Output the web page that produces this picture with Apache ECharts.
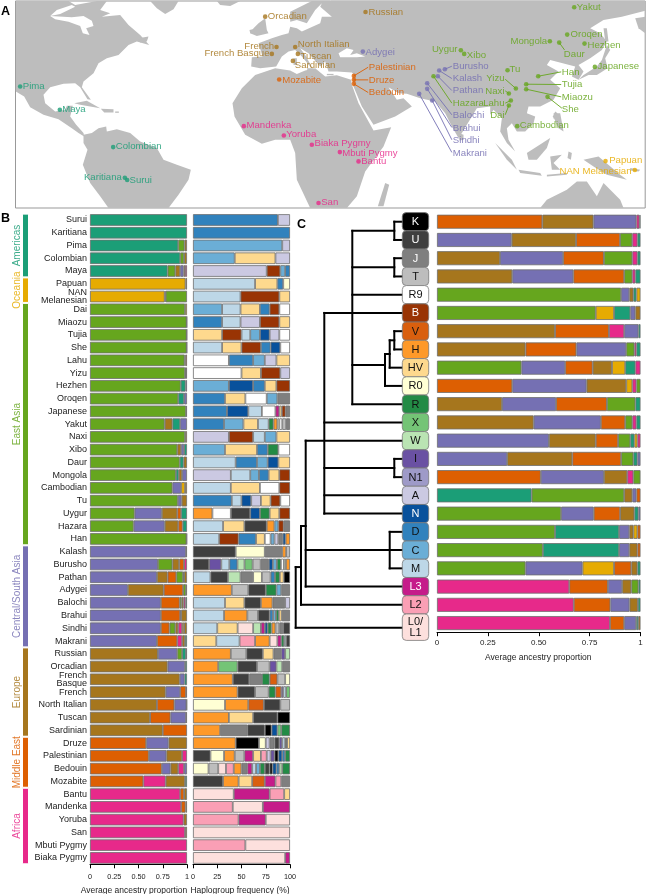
<!DOCTYPE html>
<html><head><meta charset="utf-8">
<style>html,body{margin:0;padding:0;background:#fff}#c{width:647px;height:894px}</style>
<script src="https://cdn.jsdelivr.net/npm/echarts@6/dist/echarts.min.js"></script>
</head><body><div id="c"></div>
<script>
const regionNames = ['Americas','Oceania','East Asia','Central/South Asia','Europe','Middle East','Africa'];
const regionCounts = [5,2,19,8,7,4,6];
const regionKeys = ['M','O','G','P','B','R','F'];
const regionColors = {M:'#1b9e77',O:'#e6ab02',G:'#66a61e',P:'#7570b3',B:'#a6761d',R:'#dd5f02',F:'#e7298a'};
const populations = ['Surui','Karitiana','Pima','Colombian','Maya','Papuan','NAN\nMelanesian','Dai','Miaozu','Tujia','She','Lahu','Yizu','Hezhen','Oroqen','Japanese','Yakut','Naxi','Xibo','Daur','Mongola','Cambodian','Tu','Uygur','Hazara','Han','Kalash','Burusho','Pathan','Adygei','Balochi','Brahui','Sindhi','Makrani','Russian','Orcadian','French\nBasque','French','North Italian','Tuscan','Sardinian','Druze','Palestinian','Bedouin','Mozabite','Bantu','Mandenka','Yoruba','San','Mbuti Pygmy','Biaka Pygmy'];
const ancestryByPopulation = ['M 100','M 100','M 91 G 6.5 B 2.5','M 93 G 4 B 3','M 80 G 8 B 5 P 3.5 R 1.5 F 2','O 98.5 B 1.5','O 77 B 1 G 22','G 98 O 2','G 99.7 B .3','G 99.7 B .3','G 99.7 B .3','G 97.5 O 1 R 1.5','G 98 B 1 O 1','G 93.5 M 5 P 1.5','G 91 M 6 P 3','G 99 B 1','G 77 B 8 M 8 P 7','G 98 B 2','G 90 B 4 P 3 M 3','G 92.5 M 4 B 3.5','G 88.5 M 3 B 3.5 P 5','G 85 P 9 O 4 B 2','G 90.5 P 4 B 5.5','G 46 P 28 B 16 R 4 M 6','G 45 P 32 B 14 R 4.5 M 4.5','G 99.5 B .5','P 99 B 1','P 70 G 15 B 7 R 5 F 3','P 69 B 11 R 9 G 7 O 1 B 3','P 39 B 37 R 20 G 3 O 1','P 73 R 19.5 G 2 B 2 F 2 M 1.5','P 73 R 20 F 1 B 6','P 73 R 9 G 6 B 3 F 4 O 2 B 3','P 69 R 21 F 5 B 3 M 2','B 70 P 20 G 5 M 4 R 1','B 80 P 18 M 2','B 92.5 P 5 M 2.5','B 78 P 15 R 6 F 1','B 69 R 18 P 12.5 F .5','B 62 R 21 P 16 F 1','B 75 R 25','R 58 P 23 B 19','R 60 P 18 B 16 F 5','R 74 P 9 B 8 F 6 P 3','R 55 F 23 B 20 M 2','F 93 R 4 B 3','F 94 R 4.5 B 1.5','F 96.5 B 3.5','F 98 B 2','F 100','F 100'];
const haplogroupsByPopulation = ['D 87.5 A 12.5','D 100','C 92 A 8','C 43 HV 42 A 15','A 76 B 14 C 5 D 5','M 64 HV 23 D 6 R0 7','M 49 B 40 HV 11','C 30 M 19 HV 20 D 10 B 10 R9 11','D 30 M 19 A 20 B 20 HV 11','HV 30 B 20 M 9 C 10 N 10 A 10 R9 11','M 30 HV 20 B 20 D 10 N 10 R9 10','R9 37 D 25 C 12 A 12 HV 14','R9 50 HV 20 B 20 A 10','C 37 N 25 D 12 HV 12 B 14','D 33 HV 21 R9 22 C 11 J 13','D 35 N 22 M 14 R9 14 L3 4 HV 2.5 B 4 J 4.5','D 32 C 20 HV 15 M 11 R 5 H 4 R0 2 R9 3 T 4 J 4','A 37 B 25 M 12 C 12 HV 14','C 33 HV 33 D 11 R 11 R9 12','M 44 D 22 C 11 N 11 HV 12','A 39 M 20 C 9 D 10 HV 11 B 11','M 39 HV 30 R9 20 B 11','D 40 M 10 N 10 A 10 HV 10 B 10 R9 10','H 20 R9 19 U 20 N 10 R 10 HV 10 B 11','M 31 HV 22 U 23 H 8 C 4 B 5.5 J 6.5','M 27 B 20 D 18 HV 9 R9 6 C 4 A 4 J 4.5 N 3 H 4.5','U 44 R0 30 J 18 H 4 T 4','U 16 I 12 M 8 D 8 W 7 X 8 T 8 J 8 N 4 C 4 R 4 R9 3 R0 2 H 4','M 18 U 18 W 13 J 13 R0 9 T 9 D 4.5 R 5 HV 4 K 6.5','H 40 T 17 U 18 R 11 C 5 J 9','M 33 HV 20 U 17 H 12 J 13 A 5','M 32 H 24 T 11 U 12 D 3.5 C 3 R 3 HV 3 J 8.5','M 25 HV 21 L0 16 W 8 L3 4 N 3 R 4 H 4 T 4 J 4 U 7','HV 24 M 24 L2 16 H 15 L0 8 L3 4 R 3 M 2 U 4','H 39 T 16 U 17 HV 11 J 8 I 4 W 5','H 26 X 20 U 20 T 13 I 7 W 6 J 8','H 41 U 17 J 13 R 8 V 8 T 8 R0 5','H 46 U 18 T 14 R 7 V 6 I 2 M 3 X 4','R0 33 H 24 V 16 U 17 T 10','H 37 HV 25 U 25 K 13','H 28 J 28 U 18 K 7 N 6 X 4 R 9','H 44 K 24 R0 7 A 4 J 5 U 5 I 3 M 3 L3 1 R 1 HV 3','U 18 R0 14 H 11 T 10 L3 9 HV 8 L2 6 A 4 I 4 K 4 N 4 D 3 R 5','R0 16 T 10 L0 8 L2 8 H 8 J 6 L3 5 M 4 C 4 R 5 U 5 K 3 N 4 D 3 W 3 R 8','U 31 H 16 HV 14 V 13 L3 11 L2 6 J 9','L0 42 L3 37 L2 15 HV 6','L2 41 L0 31 L3 28','L2 47 L3 28 L0 25','L0 100','L2 54 L0 46','L0 95 L3 5'];
const haplogroupNames = ['K','U','J','T','R9','B','V','H','HV','R0','R','X','W','I','N1','A','N','D','C','M','L3','L2','L0/\nL1'];
const haplogroupColors = {K:'#000000',U:'#3f3f3f',J:'#7f7f7f',T:'#bdbdbd',R9:'#ffffff',B:'#993404',V:'#d95f0e',H:'#fe9929',HV:'#fed98e',R0:'#ffffd4',R:'#238b45',X:'#74c476',W:'#bae4b3',I:'#6a51a3',N1:'#9e9ac8',A:'#cbc9e2',N:'#08519c',D:'#3182bd',C:'#6baed6',M:'#bdd7e7',L3:'#c51b8a',L2:'#fa9fb5',L0:'#fde0dd'};
const lightText = ['K','U','J','B','L3','N'];
const ancestryByHaplogroup = ['R 51.5 B 25 P 21 F 1.5 M .5','P 36.5 B 31.5 R 21.5 G 6 F 2.5 M 1.5','B 31 P 31 R 20 G 14 F 2.5 M 1.5','B 37 P 30 R 25 G 4 F 1.5 M 2.5','G 90.5 P 4 B 2 M 1.5 O 2','G 78 O 9 M 8 P 2.5 B 2.5','B 58 R 26.5 F 7.5 P 7 M 1','B 43.5 R 25 P 24.5 G 4 F 1 M 2','G 41.5 P 21.5 R 13.5 B 9.5 O 6.5 M 5 F 2.5','R 37 P 36.5 B 19.5 O 3 F 2 G 2','B 32 P 26.5 R 25 G 14 M 2.5','B 47.5 P 33 R 12 G 3.5 F 2 M 2','P 55 B 23 R 11 G 6 M 2 O 1.5 F 1.5','P 34.5 B 32 R 24 G 6 M 2 P 1.5','R 51 P 31 B 11.5 F 3 G 3.5','M 46.5 G 45.5 B 4 P 2 R 2','G 61 P 16 R 13 B 7 M 2 P 1','G 58 M 31.5 P 5 B 2 O 2 R 1.5','G 52 M 37.5 P 5 B 4 R 1.5','G 43.5 P 28 O 15.5 R 8.5 B 3 M 1.5','F 65 R 19 P 7 B 4.5 G 3.5 M 1','F 67.2 R 18 P 9.4 B 4.1 M 1.3','F 85 R 7 P 5.9 M 1 B 1.1'];
const tickAncestry = ['0','0.25','0.50','0.75','1'];
const tickFrequency = ['0','25','50','75','100'];
// tree branches, in tile-row units: [row, fromX, toX] and [x, fromRow, toRow]
const treeHorizontal = [[0,394.3,402],[1,394.3,402],[2,394.3,402],[3,394.3,402],[4,352.3,402],[5,324.3,402],[.5,352.3,394.3],[2.5,352.3,394.3],[6,394.3,402],[7,394.3,402],[6.5,389.7,394.3],[8,389.7,402],[7.25,385,389.7],[9,385,402],[7.85,352.3,385],[10,352.3,402],[11,324.3,402],[12,305.7,402],[13,394.3,402],[14,394.3,402],[13.5,324.3,394.3],[15,324.3,402],[16,324.3,402],[17,389.7,402],[18,305.7,402],[19,389.7,402],[20,305.7,402],[16.68,301,305.7],[21,301,402],[18.93,295.7,301],[22.25,295.7,402]];
const treeVertical = [[352.3,.5,10],[324.3,5,16],[394.3,0,1],[394.3,2,3],[394.3,6,7],[394.3,13,14],[389.7,6.5,8],[389.7,17,19],[385,7.25,9],[305.7,12,20],[301,16.68,21],[295.7,18.93,22.25]];
// map sites: name, region, dot x, dot y, label x, label y, side, leader end x, leader end y
const mapSites = [
['Pima','M',60,260,68,260,'r'],['Maya','M',179,330,186,328,'r'],['Colombian','M',339,442,347,440,'r'],['Karitiana','M',374,534,365,534,'l'],['Surui','M',381,541,388,541,'r'],
['Orcadian','B',795,50,803,50,'r'],['French','B',829,141,822,140,'l'],['French Basque','B',815,162,808,160,'l'],['North Italian','B',885,141,893,134,'r'],['Tuscan','B',893,162,901,168,'r'],['Sardinian','B',878,183,884,196,'r'],['Russian','B',1096,36,1105,37,'r'],
['Mozabite','R',837,239,846,240,'r'],['Palestinian','R',1061,228,1106,202,'r',1104,202],['Druze','R',1061,240,1106,240,'r',1104,240],['Bedouin','R',1061,252,1106,278,'r',1104,278],
['Mandenka','F',731,379,739,377,'r'],['Yoruba','F',851,407,858,405,'r'],['Biaka Pygmy','F',935,435,943,432,'r'],['San','F',955,610,963,608,'r'],['Mbuti Pygmy','F',1019,457,1026,460,'r'],['Bantu','F',1075,485,1083,485,'r'],
['Adygei','P',1088,155,1096,156,'r'],['Burusho','P',1334,208,1358,198,'r',1355,199],['Kalash','P',1317,212,1358,236,'r',1355,236],['Pathan','P',1313,229,1358,272,'r',1355,272],['Balochi','P',1281,250,1358,347,'r',1355,345],['Brahui','P',1281,267,1358,385,'r',1355,383],['Sindhi','P',1296,302,1358,422,'r',1355,420],['Makrani','P',1257,282,1358,460,'r',1355,458],
['Hazara','G',1300,229,1358,310,'r',1355,310],['Uygur','G',1382,151,1372,149,'l'],['Xibo','G',1392,162,1400,165,'r'],['Tu','G',1522,211,1528,209,'r'],['Yizu','G',1547,266,1513,236,'l',1515,238],['Naxi','G',1526,281,1513,273,'l',1515,273],['Lahu','G',1532,302,1513,310,'l',1515,310],['Dai','G',1526,317,1513,347,'l',1515,345],['Cambodian','G',1551,379,1559,377,'r'],['Mongola','G',1649,124,1641,124,'l'],['Oroqen','G',1701,104,1711,104,'r'],['Yakut','G',1722,22,1730,22,'r'],['Hezhen','G',1753,131,1762,135,'r'],['Daur','G',1677,128,1691,164,'r',1693,150],['Japanese','G',1784,201,1792,198,'r'],['Han','G',1614,229,1685,216,'r',1683,216],['Tujia','G',1578,253,1685,254,'r',1683,254],['Miaozu','G',1578,268,1685,291,'r',1683,291],['She','G',1642,291,1685,328,'r',1685,325],
['Papuan','O',1816,484,1827,483,'r'],['NAN Melanesian','O',1904,511,1894,514,'l']];
const land = [
[[47,3],[205,3],[225,15],[290,3],[320,3],[300,30],[330,40],[305,50],[360,45],[385,75],[420,105],[447,135],[410,125],[385,135],[355,165],[320,175],[295,190],[280,220],[250,245],[245,262],[272,300],[262,298],[240,262],[225,250],[190,252],[150,262],[130,285],[135,310],[165,335],[195,330],[200,318],[218,318],[210,350],[228,375],[250,400],[252,410],[235,400],[215,385],[175,358],[130,345],[90,322],[72,290],[47,275]],
[[450,3],[535,3],[520,28],[495,42],[470,25]],[[650,3],[720,3],[690,18],[660,15]],[[415,115],[445,110],[440,125],[420,128]],
[[222,310],[260,303],[300,325],[270,320],[240,315]],[[302,327],[340,328],[340,338],[312,338]],[[345,335],[356,335],[356,339],[345,339]],
[[250,405],[275,400],[295,385],[318,380],[320,395],[350,388],[390,400],[420,425],[470,445],[490,480],[530,495],[572,510],[565,540],[535,585],[505,625],[325,625],[300,590],[270,550],[248,495],[262,450],[250,430]],
// Africa
[[1053,240],[1010,226],[975,230],[945,205],[915,212],[890,222],[870,212],[825,205],[765,225],[725,265],[697,310],[703,350],[735,405],[785,432],[825,420],[870,420],[885,460],[890,540],[930,625],[1040,625],[1070,590],[1095,515],[1150,440],[1173,382],[1120,392],[1105,365],[1075,310],[1055,255]],
[[1155,550],[1167,555],[1150,620],[1133,620]],
// Eurasia
[[828,200],[780,205],[753,200],[755,172],[787,170],[775,130],[815,115],[845,105],[865,100],[870,80],[890,85],[905,95],[960,70],[965,50],[995,50],[960,20],[965,10],[945,30],[920,70],[890,60],[870,65],[870,35],[935,3],[1935,3],[1935,32],[1865,50],[1810,60],[1770,85],[1800,100],[1820,125],[1805,150],[1770,175],[1735,195],[1750,215],[1735,240],[1715,230],[1725,200],[1650,180],[1640,195],[1675,215],[1650,240],[1680,265],[1660,300],[1620,320],[1585,320],[1580,340],[1605,350],[1600,370],[1575,395],[1550,395],[1535,370],[1520,385],[1525,420],[1545,455],[1520,430],[1500,395],[1505,355],[1480,330],[1470,345],[1470,320],[1430,325],[1385,400],[1375,415],[1355,380],[1335,340],[1305,305],[1260,295],[1220,282],[1195,280],[1165,262],[1190,300],[1210,295],[1235,320],[1185,350],[1120,375],[1085,320],[1060,260],[1058,240],[1060,222],[1055,218],[1010,215],[985,215],[975,185],[965,195],[960,200],[925,160],[900,145],[915,165],[937,205],[930,200],[905,170],[885,150],[865,155],[845,170]],
// islands
[[750,100],[760,85],[775,70],[795,55],[800,90],[805,100],[770,108]],[[748,90],[770,85],[765,100],[750,100]],[[920,205],[940,205],[940,212],[922,212]],[[880,175],[890,175],[890,195],[880,195]],[[980,222],[1000,222],[1000,226],[980,226]],
[[1820,135],[1830,150],[1815,175],[1822,205],[1790,225],[1765,225],[1735,240],[1750,225],[1790,200],[1805,180]],[[1810,85],[1820,85],[1825,125],[1815,125]],
[[1905,55],[1935,50],[1935,100],[1915,85]],
[[1375,400],[1390,405],[1390,420],[1378,422]],[[1665,335],[1672,340],[1662,360],[1658,350]],[[1660,340],[1680,340],[1690,395],[1675,385],[1665,365]],
[[1580,460],[1650,415],[1640,445],[1610,480],[1585,480]],[[1485,430],[1535,480],[1550,510],[1520,480]],[[1555,510],[1620,520],[1625,528],[1560,520]],[[1650,470],[1685,465],[1660,490],[1680,510],[1655,510]],[[1640,525],[1700,520],[1700,525],[1640,530]],[[1705,455],[1715,460],[1712,480],[1702,475]],
[[1750,480],[1795,470],[1860,525],[1880,540],[1820,525],[1780,500]],[[1890,505],[1920,510],[1915,515],[1890,512]],
[[1620,625],[1640,600],[1700,570],[1730,545],[1760,545],[1790,590],[1810,550],[1860,600],[1870,625]]
];
const water = [
[[150,48],[180,42],[225,20],[215,15],[170,30],[150,48]],
[[150,48],[215,52],[250,48],[275,62],[280,78],[258,85],[268,105],[248,100],[240,78],[205,65],[165,58]],
[[1015,160],[1040,145],[1060,150],[1050,165],[1070,160],[1095,170],[1070,172],[1020,172]]
];

const lab = {fontFamily:'"Liberation Sans"',fontSize:9,color:'#222'};
const parse = s => { const t=s.split(' '),o=[]; for(let i=0;i<t.length;i+=2)o.push([t[i],+t[i+1]]); const sum=o.reduce((a,b)=>a+b[1],0); return o.map(d=>[d[0],d[1]*100/sum]); };
const stacked = (rows,colors,idx,w,stack) => {
  const parsed=rows.map(parse), n=Math.max(...parsed.map(r=>r.length)), out=[];
  for(let i=0;i<n;i++) out.push({type:'bar',xAxisIndex:idx,yAxisIndex:idx,stack,barWidth:w,silent:true,animation:false,
    itemStyle:{borderColor:'#6e6e6e',borderWidth:.8},
    data:parsed.map(r=>r[i]?{value:r[i][1],itemStyle:{color:colors[r[i][0]]}}:null)});
  return out;
};
const pct = (ticks,name,tickFont,gap,margin,shift) => ({type:'value',min:0,max:100,interval:25,
  axisLine:{show:true,lineStyle:{color:'#000',width:1}},axisTick:{show:true,length:4,lineStyle:{color:'#000'}},splitLine:{show:false},
  axisLabel:Object.assign({},lab,{fontSize:tickFont,margin,hideOverlap:false,showMinLabel:true,showMaxLabel:true,formatter:v=>ticks[v/25]}),
  name,nameLocation:'middle',nameGap:gap,nameTextStyle:Object.assign({},lab,{fontSize:8.5,padding:[0,shift,0,0]})});
const hidden = (o) => Object.assign({show:false},o);
const poly = (arr,fill,z) => ({type:'custom',xAxisIndex:0,yAxisIndex:0,silent:true,animation:false,z,clip:true,
  data:arr.map((_,i)=>[i]),
  renderItem:(p,api)=>({type:'polygon',shape:{points:arr[api.value(0)].map(q=>api.coord(q))},style:{fill}})});

const series = [
  poly(land,'#bdbdbd',1), poly(water,'#ffffff',2),
  {type:'custom',xAxisIndex:0,yAxisIndex:0,silent:true,animation:false,z:3,data:mapSites.filter(s=>s[7]).map((s,i)=>[s[2],s[3],s[7],s[8]]),
    renderItem:(p,api)=>{const a=api.coord([api.value(0),api.value(1)]),b=api.coord([api.value(2),api.value(3)]);const d=mapSites.filter(s=>s[7])[p.dataIndex];
      return {type:'line',shape:{x1:a[0],y1:a[1],x2:b[0],y2:b[1]},style:{stroke:regionColors[d[1]],lineWidth:.9}};}},
  {type:'scatter',xAxisIndex:0,yAxisIndex:0,silent:true,animation:false,z:4,symbolSize:4.6,data:mapSites.map(s=>({value:[s[2],s[3]],itemStyle:{color:regionColors[s[1]]}}))},
  {type:'scatter',xAxisIndex:0,yAxisIndex:0,silent:true,animation:false,z:5,symbolSize:0,labelLayout:{hideOverlap:false},
    data:mapSites.map(s=>({value:[s[4],s[5]],name:s[0],label:{show:true,formatter:s[0],position:s[6]=='r'?'right':'left',distance:0,fontFamily:'"Liberation Sans"',fontSize:9.6,color:regionColors[s[1]],opacity:.85}}))},
  ...regionCounts.map((c,i)=>({type:'bar',xAxisIndex:1,yAxisIndex:1,stack:'r',barWidth:7,silent:true,animation:false,data:[{value:c,name:regionNames[i]}],
    itemStyle:{color:regionColors[regionKeys[i]],borderColor:'#fff',borderWidth:1},
    label:{show:true,position:'left',distance:5,rotate:90,formatter:regionNames[i],color:regionColors[regionKeys[i]],fontFamily:'"Liberation Sans"',fontSize:10,opacity:.85,align:'center',verticalAlign:'middle'}})),
  ...stacked(ancestryByPopulation,regionColors,2,11.6,'a'),
  ...stacked(haplogroupsByPopulation,haplogroupColors,3,11.6,'h'),
  ...stacked(ancestryByHaplogroup,regionColors,4,14,'c'),
  {type:'custom',xAxisIndex:5,yAxisIndex:5,silent:true,animation:false,z:3,data:treeHorizontal.map(d=>[d[1],d[0],d[2],d[0]]).concat(treeVertical.map(d=>[d[0],d[1],d[0],d[2]])),
    renderItem:(p,api)=>{const a=api.coord([api.value(0),api.value(1)]),b=api.coord([api.value(2),api.value(3)]);
      return {type:'line',shape:{x1:a[0],y1:a[1],x2:b[0],y2:b[1]},style:{stroke:'#000',lineWidth:2,lineCap:'square'}};}},
  {type:'custom',xAxisIndex:5,yAxisIndex:5,silent:true,animation:false,z:4,clip:false,data:haplogroupNames.map((n,i)=>[i]),
    renderItem:(p,api)=>{const i=api.value(0),n=haplogroupNames[i],key=n.startsWith('L0')?'L0':n;const tall=key==='L0';
      const top=api.coord([402.3,i-.5]),bot=api.coord([428.7,i+(tall?.95:.5)]);
      return {type:'group',children:[
        {type:'rect',shape:{x:top[0],y:top[1],width:bot[0]-top[0],height:bot[1]-top[1],r:4},style:{fill:haplogroupColors[key],stroke:'#7a7a7a',lineWidth:.8}},
        {type:'text',style:{text:n,x:(top[0]+bot[0])/2,y:(top[1]+bot[1])/2+.5,align:'center',verticalAlign:'middle',fontFamily:'"Liberation Sans"',fontSize:11,lineHeight:11,fill:lightText.includes(key)?'#fff':'#111'}}]};}}
];
const option = {
  backgroundColor:'#fff',animation:false,
  title:[{text:'A',left:1,top:5},{text:'B',left:1,top:212},{text:'C',left:297,top:218}].map(t=>Object.assign(t,{padding:0,textStyle:{fontFamily:'"Liberation Sans"',fontSize:12.5,fontWeight:'bold',color:'#000'}})),
  grid:[
    {left:15.5,top:1,width:629.7,height:207,show:true,borderColor:'#999',borderWidth:1,backgroundColor:'transparent'},
    {left:22,width:7,top:213.6,height:650.7},
    {left:90,width:97,top:213.6,height:650.7},
    {left:193,width:97,top:213.6,height:650.7},
    {left:437,width:203.5,top:212.6,height:419.6},
    {left:295,width:135,top:212.6,height:419.6}
  ].map(g=>Object.assign(g,{outerBoundsMode:'none'})),
  xAxis:[
    hidden({type:'value',gridIndex:0,min:46,max:1935}),
    hidden({type:'category',gridIndex:1,data:['r']}),
    Object.assign(pct(tickAncestry,'Average ancestry proportion',7.3,22,9,9),{gridIndex:2}),
    Object.assign(pct(tickFrequency,'Haplogroup frequency (%)',7.3,22,9,3),{gridIndex:3}),
    Object.assign(pct(tickAncestry,'Average ancestry proportion',8,21,7,1),{gridIndex:4}),
    hidden({type:'value',gridIndex:5,min:295,max:430})
  ],
  yAxis:[
    hidden({type:'value',gridIndex:0,min:3,max:625,inverse:true}),
    hidden({type:'value',gridIndex:1,min:0,max:51,inverse:true}),
    {type:'category',gridIndex:2,inverse:true,data:populations,axisLine:{show:false},axisTick:{show:false},axisLabel:Object.assign({},lab,{interval:0,margin:3,lineHeight:8})},
    {type:'category',gridIndex:3,inverse:true,data:populations,axisLine:{show:false},axisTick:{show:false},axisLabel:{show:false}},
    {type:'category',gridIndex:4,inverse:true,data:haplogroupNames,axisLine:{show:false},axisTick:{show:false},axisLabel:{show:false}},
    hidden({type:'value',gridIndex:5,min:-.5,max:22.5,inverse:true})
  ],
  series
};
echarts.init(document.getElementById('c'),null,{renderer:'canvas'}).setOption(option);
</script></body></html>
